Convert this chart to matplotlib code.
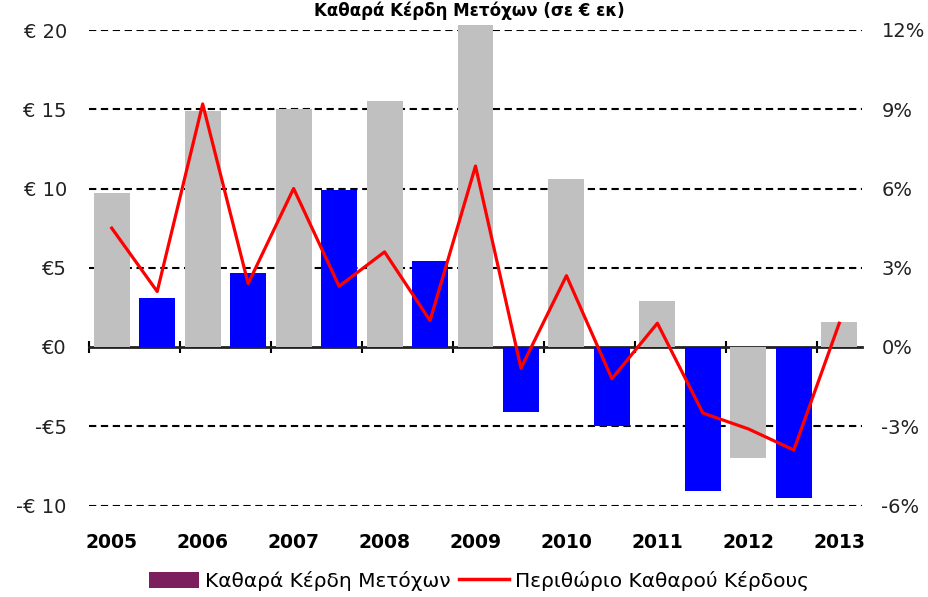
import numpy as np
import matplotlib.pyplot as plt
from matplotlib.patches import Patch
from matplotlib.lines import Line2D

# Dane
lata = ['2005', '2006', '2007', '2008', '2009', '2010', '2011', '2012', '2013']
kerdi = [9.7, 3.1, 14.9, 4.7, 15.0, 9.9, 15.5, 5.4, 20.3,
         -4.1, 10.6, -5.0, 2.9, -9.1, -7.0, -9.5, 1.6]  # € εκ
perithorio = [4.5, 2.1, 9.2, 2.4, 6.0, 2.3, 3.6, 1.0, 6.85,
              -0.8, 2.7, -1.2, 0.9, -2.5, -3.1, -3.9, 0.9]  # %
y_ticks = [-10, -5, 0, 5, 10, 15, 20]
y_labels = ['-€ 10', '-€5', '€0', '€5', '€ 10', '€ 15', '€ 20']
y2_ticks = [-6, -3, 0, 3, 6, 9, 12]
y2_labels = ['-6%', '-3%', '0%', '3%', '6%', '9%', '12%']

title = 'Καθαρά Κέρδη Μετόχων (σε € εκ)'
leg1 = 'Καθαρά Κέρδη Μετόχων'
leg2 = 'Περιθώριο Καθαρού Κέρδους'

plt.rcParams['font.family'] = ['DejaVu Sans']

W, H = 929, 597
fig = plt.figure(figsize=(W / 100, H / 100), dpi=100)
ax = fig.add_axes([89 / W, 1 - 505.5 / H, (862 - 89) / W, (505.5 - 30) / H])

n = len(kerdi)
x = np.arange(n)
kolory = ['#c0c0c0' if i % 2 == 0 else '#0000ff' for i in range(n)]
ax.bar(x, kerdi, width=0.79, color=kolory, zorder=2, clip_on=False)

ax.set_xlim(-0.5, n - 0.5)
ax.set_ylim(-10, 20)
ax.set_yticks(y_ticks)
ax.set_yticklabels(y_labels, fontsize=14, color='#222222')
ax.set_xticks(x[::2])
ax.set_xticklabels(lata, fontsize=13.5, fontweight='bold')
ax.tick_params(axis='x', length=0, pad=20)
ax.tick_params(axis='y', length=0, pad=16)
for s in ax.spines.values():
    s.set_visible(False)

# Linie siatki (przerywane)
for v in y_ticks:
    if v != 0:
        ax.axhline(v, color='black', lw=1.5, ls=(0, (3.5, 2.2)), zorder=1)

# Oś X w zerze z kreskami
sec = ax.secondary_xaxis(1 / 3)
sec.set_xticks(np.arange(-0.5, n - 1, 2))
sec.tick_params(direction='inout', length=8, width=1.5, labelbottom=False, labeltop=False)
sec.spines['bottom'].set_linewidth(2)
sec.spines['bottom'].set_color('#222222')

# Prawa oś - marża
ax2 = ax.twinx()
ax2.plot(x, perithorio, color='#ff0000', lw=2.3, zorder=3)
ax2.set_ylim(-6, 12)
ax2.set_yticks(y2_ticks)
ax2.set_yticklabels(y2_labels, fontsize=14, color='#222222')
ax2.tick_params(axis='y', length=0, pad=14)
for s in ax2.spines.values():
    s.set_visible(False)

fig.text(469 / W, 1 - 1 / H, title, ha='center', va='top', fontsize=12, fontweight='bold')

uchwyty = [Patch(facecolor='#7b1f5e', edgecolor='none'),
           Line2D([0], [0], color='#ff0000', lw=2.5)]
fig.legend(uchwyty, [leg1, leg2], loc='center', bbox_to_anchor=(479 / W, 1 - 581 / H),
           ncol=2, frameon=False, fontsize=14.5, handlelength=2.5, handleheight=0.9,
           handletextpad=0.3, columnspacing=0.4)

fig.savefig('out.png', dpi=100)
